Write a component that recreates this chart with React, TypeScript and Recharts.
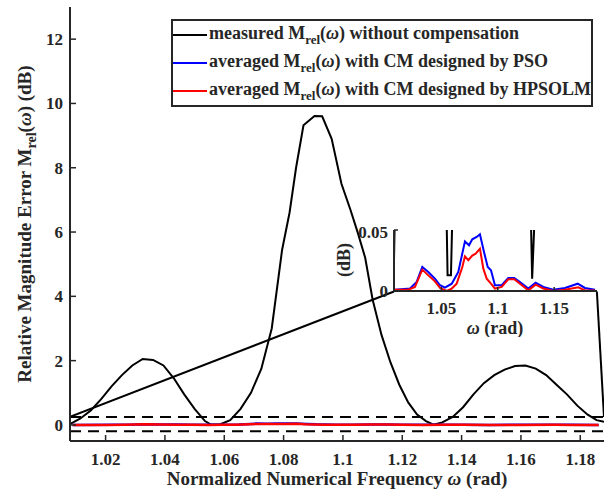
import { LineChart, Line, XAxis, YAxis, CartesianGrid, ReferenceLine, Legend } from "recharts";

const FONT = "'Liberation Serif', 'DejaVu Serif', serif";
const INK = "#262626";

// measured M_rel(w) without compensation (dB)
const MEASURED_W = [
  1.008, 1.0115, 1.015, 1.0185, 1.022, 1.0255, 1.029, 1.0325, 1.036, 1.0395,
  1.043, 1.0465, 1.05, 1.0535, 1.0555, 1.0585, 1.062, 1.0655, 1.069, 1.0725,
  1.076, 1.0795, 1.082, 1.0842, 1.0867, 1.0904, 1.093, 1.0962, 1.0995, 1.1025,
  1.1051, 1.1075, 1.11, 1.113, 1.116, 1.119, 1.122, 1.125, 1.128, 1.1305,
  1.1335, 1.137, 1.1405, 1.144, 1.1475, 1.151, 1.1545, 1.158, 1.1615, 1.165,
  1.1685, 1.172, 1.1755, 1.179, 1.1825, 1.1855, 1.188,
];
const MEASURED_DB = [
  0.025, 0.2, 0.45, 0.8, 1.2, 1.55, 1.85, 2.05, 2.02, 1.85,
  1.45, 0.95, 0.5, 0.12, 0.013, 0.013, 0.15, 0.5, 1.0, 1.75,
  3.0, 5.45, 6.6, 8.0, 9.32, 9.61, 9.6, 8.9, 7.5, 6.7,
  5.95, 5.2, 3.9, 2.8, 1.95, 1.25, 0.7, 0.32, 0.12, 0.01,
  0.08, 0.25, 0.55, 0.95, 1.3, 1.55, 1.72, 1.83, 1.85, 1.75,
  1.55, 1.25, 0.95, 0.6, 0.32, 0.15, 0.1,
];

// averaged M_rel(w), CM designed by PSO
const PSO_W = [
  1.0089, 1.0222, 1.0281, 1.0331, 1.0384, 1.0443, 1.0488, 1.0532, 1.0592, 1.065,
  1.0709, 1.0745, 1.0774, 1.0813, 1.0842, 1.0878, 1.0911, 1.094, 1.0975, 1.1035,
  1.1093, 1.1146, 1.1197, 1.1271, 1.1336, 1.1404, 1.1492, 1.1596, 1.1709, 1.1773,
  1.1862,
];
const PSO_DB = [
  0.001, 0.002, 0.0074, 0.0197, 0.0156, 0.0101, 0.0047, 0.0027, 0.006, 0.0156,
  0.0407, 0.0375, 0.0424, 0.0443, 0.0465, 0.032, 0.0197, 0.017, 0.0047, 0.0047,
  0.0107, 0.0107, 0.0074, 0.002, 0.0068, 0.0033, 0.001, 0.0025, 0.006, 0.0025,
  0.001,
];

// averaged M_rel(w), CM designed by HPSOLM
const HPSOLM_W = [
  1.0089, 1.0207, 1.0266, 1.0331, 1.0384, 1.0443, 1.0488, 1.0547, 1.0592, 1.0636,
  1.0686, 1.0709, 1.0739, 1.0774, 1.0804, 1.0842, 1.0872, 1.0902, 1.094, 1.0975,
  1.1035, 1.1093, 1.1146, 1.1197, 1.1271, 1.1336, 1.1404, 1.1492, 1.1596, 1.1714,
  1.1773, 1.1862,
];
const HPSOLM_DB = [
  0.001, 0.001, 0.0033, 0.0175, 0.0128, 0.0079, 0.0025, 0, 0.002, 0.006,
  0.0197, 0.0284, 0.0252, 0.029, 0.0306, 0.0347, 0.0183, 0.0101, 0.006, 0.002,
  0.0033, 0.0096, 0.0096, 0.006, 0.0005, 0.0052, 0.002, 0, 0.001, 0.003,
  0.0005, 0.0005,
];

const X_DOMAIN = [1.008, 1.188];
const X_TICKS = [1.02, 1.04, 1.06, 1.08, 1.1, 1.12, 1.14, 1.16, 1.18];
const Y_DOMAIN = [-0.5, 13];
const Y_TICKS = [0, 2, 4, 6, 8, 10, 12];
const INSET_X_TICKS = [1.05, 1.1, 1.15];
const INSET_Y_DOMAIN = [0, 0.05];
const INSET_Y_TICKS = [0, 0.05];
const BAND_LEVELS = [0.25, -0.2];

// zoom connector lines (main-axes data coordinates)
const LEFT_LINK_W = [1.008, 1.1172];
const LEFT_LINK_DB = [0.25, 4.15];
const RIGHT_LINK_W = [1.1856, 1.188];
const RIGHT_LINK_DB = [4.15, 0.25];

const LEGEND_ITEMS = [
  { color: "#000000", before: "measured M", after: " without compensation" },
  { color: "#0000ff", before: "averaged M", after: " with CM designed by PSO" },
  { color: "#ff0000", before: "averaged M", after: " with CM designed by HPSOLM" },
];

const pairs = (w: number[], db: number[]) => w.map((x, i) => ({ w: x, db: db[i] }));

const measured = pairs(MEASURED_W, MEASURED_DB);
const pso = pairs(PSO_W, PSO_DB);
const hpsolm = pairs(HPSOLM_W, HPSOLM_DB);
const leftLink = pairs(LEFT_LINK_W, LEFT_LINK_DB);
const rightLink = pairs(RIGHT_LINK_W, RIGHT_LINK_DB);

const fmt = (v: number) => String(+v.toFixed(2));
const tickFont = { fontFamily: FONT, fontWeight: "bold", fontSize: 17, fill: INK };
const axisLine = { stroke: INK, strokeWidth: 2 };
const tickLine = { stroke: INK, strokeWidth: 1.5 };
const textStyle = { fontFamily: FONT, fontWeight: "bold" as const };

const MainXTitle = () => (
  <text x={337} y={485} textAnchor="middle" style={textStyle} fontSize={19} fill={INK}>
    Normalized Numerical Frequency <tspan fontStyle="italic">ω</tspan> (rad)
  </text>
);

const MainYTitle = () => (
  <text x={31} y={224} transform="rotate(-90 31 224)" textAnchor="middle" style={textStyle} fontSize={19} fill={INK}>
    Relative Magnitude Error M<tspan fontSize={14} dy={5}>rel</tspan>
    <tspan dy={-5}>(</tspan><tspan fontStyle="italic">ω</tspan>) (dB)
  </text>
);

const InsetXTitle = () => (
  <text x={165} y={112} textAnchor="middle" style={textStyle} fontSize={18} fill={INK}>
    <tspan fontStyle="italic">ω</tspan> (rad)
  </text>
);

const InsetYTitle = () => (
  <text x={20} y={38} transform="rotate(-90 20 38)" textAnchor="middle" style={textStyle} fontSize={18} fill={INK}>
    (dB)
  </text>
);

const LegendBox = () => (
  <div
    style={{
      width: 422,
      height: 88,
      boxSizing: "border-box",
      border: `2px solid ${INK}`,
      background: "#fff",
      fontFamily: FONT,
      fontWeight: "bold",
      fontSize: 18,
      color: INK,
      overflow: "hidden",
    }}
  >
    {LEGEND_ITEMS.map((item, i) => (
      <div
        key={i}
        style={{ height: 28, lineHeight: "28px", display: "flex", alignItems: "center", whiteSpace: "nowrap", marginTop: i === 0 ? -2 : 0 }}
      >
        <span style={{ display: "inline-block", flex: "none", width: 34, height: 2, background: item.color, marginRight: 2, marginTop: 4 }} />
        <span>
          {item.before}
          <sub style={{ fontSize: 13, lineHeight: 0, verticalAlign: "-5px" }}>rel</sub>(
          <i>ω</i>){item.after}
        </span>
      </div>
    ))}
  </div>
);

export default function App() {
  return (
    <div style={{ position: "fixed", left: 0, top: 0, width: 613, height: 493, background: "#fff", fontFamily: FONT }}>
      <LineChart width={613} height={493} margin={{ top: 7, right: 9, left: 0, bottom: 0 }} style={{ fontFamily: FONT }}>
        <XAxis
          dataKey="w"
          type="number"
          domain={X_DOMAIN}
          ticks={X_TICKS}
          allowDataOverflow
          tickFormatter={fmt}
          height={52}
          tickSize={-6}
          tickMargin={18}
          tick={tickFont}
          axisLine={axisLine}
          tickLine={tickLine}
          label={<MainXTitle />}
        />
        <XAxis
          xAxisId="top"
          orientation="top"
          dataKey="w"
          type="number"
          domain={X_DOMAIN}
          ticks={X_TICKS}
          allowDataOverflow
          height={0}
          tickSize={-6}
          tick={false}
          axisLine={axisLine}
          tickLine={tickLine}
        />
        <YAxis
          type="number"
          domain={Y_DOMAIN}
          ticks={Y_TICKS}
          allowDataOverflow
          width={70}
          tickSize={-6}
          tickMargin={13}
          tick={tickFont}
          axisLine={axisLine}
          tickLine={tickLine}
          label={<MainYTitle />}
        />
        <YAxis
          yAxisId="right"
          orientation="right"
          type="number"
          domain={Y_DOMAIN}
          ticks={Y_TICKS}
          allowDataOverflow
          width={0}
          tickSize={-6}
          tick={false}
          axisLine={axisLine}
          tickLine={tickLine}
        />
        {BAND_LEVELS.map((v) => (
          <ReferenceLine key={v} y={v} stroke="#000" strokeWidth={2} strokeDasharray="11 7" />
        ))}
        <Line data={leftLink} dataKey="db" stroke="#000" strokeWidth={2} dot={false} legendType="none" isAnimationActive={false} />
        <Line data={rightLink} dataKey="db" stroke="#000" strokeWidth={2} dot={false} legendType="none" isAnimationActive={false} />
        <Line data={measured} dataKey="db" stroke="#000" strokeWidth={2} dot={false} isAnimationActive={false} />
        <Line data={pso} dataKey="db" stroke="#0000ff" strokeWidth={2.5} dot={false} isAnimationActive={false} />
        <Line data={hpsolm} dataKey="db" stroke="#ff0000" strokeWidth={2.5} dot={false} isAnimationActive={false} />
        <Legend
          layout="vertical"
          align="center"
          verticalAlign="middle"
          wrapperStyle={{ left: 171, top: 19, width: 422, height: 88 }}
          content={() => <LegendBox />}
        />
      </LineChart>

      <div style={{ position: "absolute", left: 330, top: 222 }}>
        <LineChart width={275} height={115} margin={{ top: 8, right: 8, left: 0, bottom: 0 }} style={{ fontFamily: FONT }}>
          <CartesianGrid fill="#fff" horizontal={false} vertical={false} />
          <XAxis
            dataKey="w"
            type="number"
            domain={X_DOMAIN}
            ticks={INSET_X_TICKS}
            allowDataOverflow
            tickFormatter={fmt}
            height={46}
            tickSize={-4}
            tickMargin={15}
            tick={tickFont}
            axisLine={axisLine}
            tickLine={tickLine}
            label={<InsetXTitle />}
          />
          <XAxis
            xAxisId="top"
            orientation="top"
            dataKey="w"
            type="number"
            domain={X_DOMAIN}
            ticks={INSET_X_TICKS}
            allowDataOverflow
            height={0}
            tickSize={-4}
            tick={false}
            axisLine={axisLine}
            tickLine={tickLine}
          />
          <YAxis
            type="number"
            domain={INSET_Y_DOMAIN}
            ticks={INSET_Y_TICKS}
            allowDataOverflow
            width={64}
            tickSize={-4}
            tickMargin={10}
            tickFormatter={fmt}
            tick={tickFont}
            axisLine={axisLine}
            tickLine={tickLine}
            label={<InsetYTitle />}
          />
          <YAxis
            yAxisId="right"
            orientation="right"
            type="number"
            domain={INSET_Y_DOMAIN}
            ticks={INSET_Y_TICKS}
            allowDataOverflow
            width={0}
            tickSize={-4}
            tick={false}
            axisLine={axisLine}
            tickLine={tickLine}
          />
          <Line data={measured} dataKey="db" stroke="#000" strokeWidth={2} dot={false} isAnimationActive={false} />
          <Line data={pso} dataKey="db" stroke="#0000ff" strokeWidth={2} dot={false} isAnimationActive={false} />
          <Line data={hpsolm} dataKey="db" stroke="#ff0000" strokeWidth={2} dot={false} isAnimationActive={false} />
        </LineChart>
      </div>
    </div>
  );
}
